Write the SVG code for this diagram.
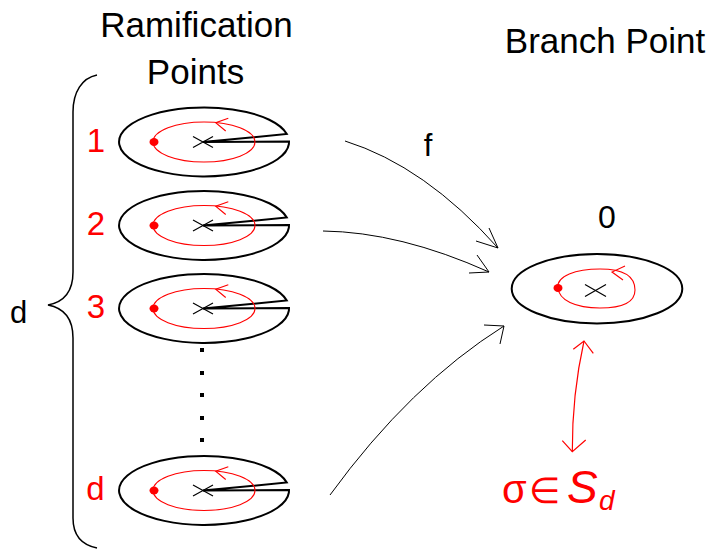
<svg xmlns="http://www.w3.org/2000/svg" width="713" height="553" viewBox="0 0 713 553">
<style>
text{font-family:"Liberation Sans",Arial,sans-serif}
.t{font-size:35px;fill:#000;text-anchor:middle}
.lbl{font-size:33px;fill:#ff0000;text-anchor:middle}
.outer{fill:none;stroke:#000;stroke-width:2}
.inner{fill:none;stroke:#ff0000;stroke-width:1.1}
.xm{stroke:#000;stroke-width:1.2;fill:none}
.dot{fill:#ff0000}
.ah{fill:none;stroke:#ff0000;stroke-width:1.1}
.conn{fill:none;stroke:#000;stroke-width:1}
.rconn{fill:none;stroke:#ff0000;stroke-width:1.2}
</style>
<defs>
<g id="disk">
<path class="outer" d="M286.8,134 A85,34.5 0 1,0 288.9,144 L289,141.5 L203,142 Z"/>
<ellipse class="inner" cx="204" cy="142" rx="51" ry="20"/>
<polyline class="ah" points="228.3,118.3 215.7,122.7 225.7,131"/>
<path class="xm" d="M193,136.5 L213,147.5 M193,147.5 L213,136.5"/>
<ellipse class="dot" cx="154" cy="142" rx="4.5" ry="4"/>
</g>
</defs>
<g id="title-ram">
<text class="t" x="196.5" y="37">Ramification</text>
<text class="t" x="195.5" y="84">Points</text>
</g>
<g id="title-branch">
<text class="t" x="605" y="53">Branch Point</text>
</g>
<g id="brace">
<path fill="none" stroke="#000" stroke-width="1.5" d="M97,75 C82,78 73,92 73,112 L73,272 C73,292 64,302 48,305 C64,308 73,318 73,338 L73,518 C73,536 82,545 97,548"/>
<text x="18.5" y="323" font-size="31" text-anchor="middle">d</text>
</g>
<g id="disk1">
<use href="#disk"/>
<text class="lbl" x="96" y="151.5">1</text>
</g>
<g id="disk2">
<use href="#disk" transform="translate(0,83.5)"/>
<text class="lbl" x="96" y="235">2</text>
</g>
<g id="disk3">
<use href="#disk" transform="translate(0,166.5)"/>
<text class="lbl" x="96" y="318">3</text>
</g>
<g id="dots">
<rect x="200" y="348" width="4" height="4"/>
<rect x="200" y="371" width="4" height="4"/>
<rect x="200" y="393" width="4" height="4"/>
<rect x="200" y="416" width="4" height="4"/>
<rect x="200" y="438" width="4" height="4"/>
</g>
<g id="diskd">
<use href="#disk" transform="translate(0,348.5)"/>
<text class="lbl" x="95.5" y="499.5">d</text>
</g>
<g id="branch">
<ellipse class="outer" cx="597" cy="288.7" rx="85.3" ry="34.7"/>
<path class="inner" d="M558,288 C556,276 576,269 600,269 C624,269 635,276 635,290 C635,303 620,308 600,308 C575,308 559,300 558,288 Z"/>
<polyline class="ah" points="625,266 612,272 623,280"/>
<path class="xm" d="M585,284.5 L606,296.5 M585,296.5 L606,284.5"/>
<ellipse class="dot" cx="558" cy="288" rx="4.5" ry="4"/>
<text x="607" y="228" font-size="32" text-anchor="middle">0</text>
</g>
<g id="connectors">
<path class="conn" d="M345,141 Q425,166 498,248"/>
<polyline class="conn" points="489,228 498,248 476,241"/>
<path class="conn" d="M323,231 Q400,232 489,272"/>
<polyline class="conn" points="477,255 489,272 469,273"/>
<path class="conn" d="M330,495 Q410,385 504,326"/>
<polyline class="conn" points="484,325 504,326 500,344"/>
<text x="428" y="156" font-size="31" text-anchor="middle">f</text>
<path class="rconn" d="M584,341 Q572,395 572.3,451.7"/>
<polyline class="rconn" points="573.3,349.3 584,341 593.3,353.3"/>
<polyline class="rconn" points="562.3,440.7 572.3,451.7 585.7,440"/>
</g>
<g id="perm">
<text x="502" y="503" font-size="40" fill="#ff0000">σ</text>
<text x="529" y="503" font-size="36" fill="#ff0000" font-family="DejaVu Sans, sans-serif">∈</text>
<text x="567" y="503" font-size="46" font-style="italic" fill="#ff0000">S</text>
<text x="599" y="510" font-size="28" font-style="italic" fill="#ff0000">d</text>
</g>
</svg>
